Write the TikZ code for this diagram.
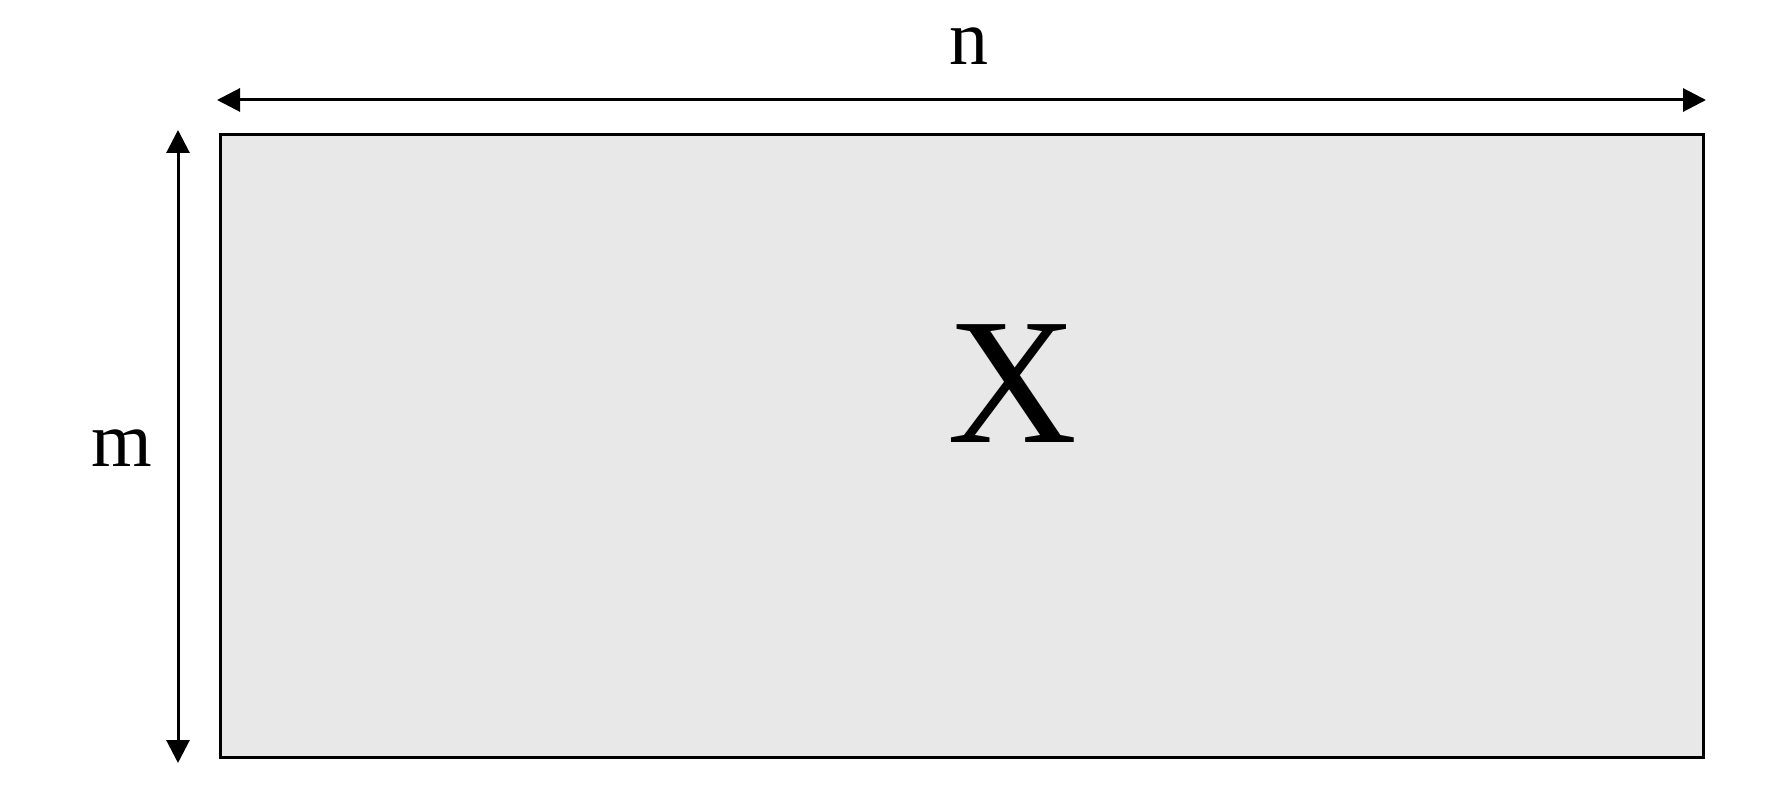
\documentclass[tikz,border=0pt]{standalone}
\usepackage{fontspec}
\setmainfont{Liberation Serif}
\usetikzlibrary{arrows.meta}
\begin{document}
\begin{tikzpicture}[x={(0.5pt,0)},y={(0,-0.5pt)},
  matbox/.style={draw=black,fill=black!9,line width=1.5pt,inner sep=0pt,minimum width=741.5pt,minimum height=311pt},
  dimarrow/.style={line width=1.5pt,{Triangle[length=11.5pt,width=11.5pt]}-{Triangle[length=11.5pt,width=11.5pt]}},
  lbl/.style={inner sep=0pt,anchor=base,font=\fontsize{39pt}{39pt}\selectfont},
  biglbl/.style={inner sep=0pt,anchor=base,font=\fontsize{90pt}{90pt}\selectfont}]
\useasboundingbox (0,0) rectangle (1772,806);
\node[matbox] (R) at (961.5,446) {};
\coordinate (hl) at (217,100);
\coordinate (hr) at (1706,100);
\coordinate (vt) at (178,130);
\coordinate (vb) at (178,763);
\draw[dimarrow] (hl) -- (hr);
\draw[dimarrow] (vt) -- (vb);
\node[lbl] (n) at (969,65) {n};
\node[lbl] (m) at (122,467) {m};
\node[biglbl] (X) at (1012,443) {X};
\end{tikzpicture}
\end{document}
